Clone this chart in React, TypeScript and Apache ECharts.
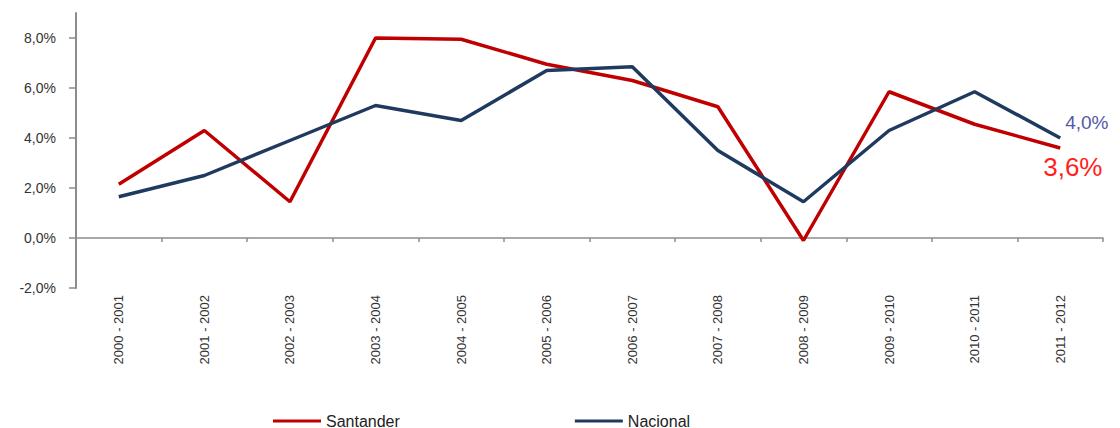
import React, { useEffect, useRef } from "react";
import * as echarts from "echarts";

const categories = [
  "2000 - 2001", "2001 - 2002", "2002 - 2003", "2003 - 2004", "2004 - 2005", "2005 - 2006",
  "2006 - 2007", "2007 - 2008", "2008 - 2009", "2009 - 2010", "2010 - 2011", "2011 - 2012",
];
const santander = [2.15, 4.3, 1.45, 8.0, 7.95, 6.95, 6.3, 5.25, -0.1, 5.85, 4.55, 3.6];
const nacional = [1.65, 2.5, 3.9, 5.3, 4.7, 6.7, 6.85, 3.5, 1.45, 4.3, 5.85, 4.0];
const yTicks = [-2, 0, 2, 4, 6, 8];

const FONT = "'Liberation Sans', Arial, sans-serif";
const fmt = (v: number) => v.toFixed(1).replace(".", ",") + "%";

export default function App() {
  const ref = useRef<HTMLDivElement>(null);
  useEffect(() => {
    if (!ref.current) return;
    const chart = echarts.init(ref.current, null, { renderer: "svg" });
    chart.setOption({
      animation: false,
      backgroundColor: "#ffffff",
      grid: { left: 76, right: 17, top: 13, bottom: 140, containLabel: false },
      legend: {
        left: 268,
        top: 408,
        icon: "rect",
        itemWidth: 48,
        itemHeight: 3,
        itemGap: 175,
        textStyle: { fontFamily: FONT, fontSize: 16, color: "#222" },
        data: ["Santander", "Nacional"],
      },
      xAxis: {
        type: "category",
        data: categories,
        boundaryGap: true,
        axisLine: { onZero: true, lineStyle: { color: "#8c8c8c", width: 1.5 } },
        axisTick: { show: true, length: 4, inside: false, lineStyle: { color: "#8c8c8c", width: 1.5 } },
        axisLabel: {
          rotate: 90,
          margin: 7,
          interval: 0,
          fontFamily: FONT,
          fontSize: 13,
          color: "#333",
        },
      },
      yAxis: {
        type: "value",
        min: -2,
        max: 9,
        interval: 1,
        splitLine: { show: false },
        axisLine: { show: true, lineStyle: { color: "#8c8c8c", width: 2 } },
        axisTick: { show: true, length: 7, customValues: yTicks, lineStyle: { color: "#8c8c8c", width: 1.5 } },
        axisLabel: {
          customValues: yTicks,
          margin: 20,
          fontFamily: FONT,
          fontSize: 14,
          color: "#333",
          formatter: (v: number) => fmt(v),
        },
      },
      series: [
        {
          name: "Santander",
          type: "line",
          symbol: "none",
          data: santander,
          lineStyle: { color: "#c00000", width: 3.5 },
          itemStyle: { color: "#c00000" },
          endLabel: {
            show: true,
            offset: [-25, 19],
            formatter: (p: any) => fmt(p.value),
            fontFamily: FONT,
            fontSize: 26,
            color: "#ff1f1f",
          },
        },
        {
          name: "Nacional",
          type: "line",
          symbol: "none",
          data: nacional,
          lineStyle: { color: "#1f3a5f", width: 3.5 },
          itemStyle: { color: "#1f3a5f" },
          endLabel: {
            show: true,
            offset: [-3, -16],
            formatter: (p: any) => fmt(p.value),
            fontFamily: FONT,
            fontSize: 19,
            color: "#5458a8",
          },
        },
      ],
    });
    return () => chart.dispose();
  }, []);
  return <div ref={ref} style={{ width: 1120, height: 428, position: "absolute", left: 0, top: 0 }} />;
}
